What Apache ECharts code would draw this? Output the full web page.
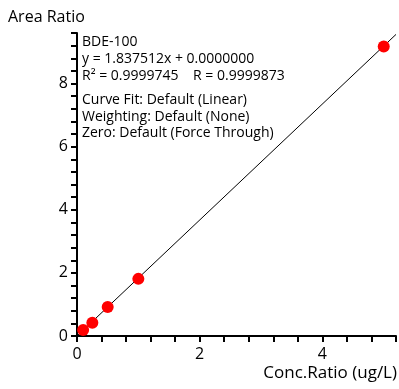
<!DOCTYPE html>
<html>
<head>
<meta charset="utf-8">
<script src="https://cdn.jsdelivr.net/npm/echarts@6/dist/echarts.min.js"></script>
<style>
  html, body { margin: 0; padding: 0; background: #fff; }
  #chart { width: 399px; height: 389px; }
</style>
</head>
<body>
<div id="chart"></div>
<script>
// calibration points
var concRatio = [0.1, 0.25, 0.5, 1, 5];
var areaRatio = [0.19, 0.42, 0.92, 1.81, 9.17];

// fitted line endpoints (y = 1.837512x, forced through zero)
var fitX = [0, 5.2];
var fitY = [0, 9.555];

var fitLines = [
    'BDE-100',
    'y = 1.837512x + 0.0000000',
    'R\u00b2 = 0.9999745    R = 0.9999873'
];
var settingLines = [
    'Curve Fit: Default (Linear)',
    'Weighting: Default (None)',
    'Zero: Default (Force Through)'
];

var font = '"Open Sans", "Noto Sans", sans-serif';

function evenLabel(v) {
    return Math.abs(v / 2 - Math.round(v / 2)) < 1e-6 ? String(Math.round(v)) : '';
}

var chart = echarts.init(document.getElementById('chart'), null, { renderer: 'canvas' });

var option = {
    animation: false,
    title: [
        {
            text: 'Area Ratio',
            left: 3, top: 4,
            textStyle: { fontFamily: font, fontSize: 16, fontWeight: 'normal', color: '#000' }
        },
        {
            text: 'Conc.Ratio (ug/L)',
            right: -3, top: 360,
            textStyle: { fontFamily: font, fontSize: 17, fontWeight: 'normal', color: '#000' }
        }
    ],
    grid: { left: 77, right: 2, top: 33, bottom: 53 },
    xAxis: {
        type: 'value',
        min: 0, max: 5.2, interval: 0.4,
        axisLine: { show: true, lineStyle: { color: '#000', width: 2 } },
        axisTick: { show: true, length: 6, lineStyle: { color: '#000', width: 2 } },
        axisLabel: { formatter: evenLabel, margin: 10, fontFamily: font, fontSize: 16, color: '#000' },
        splitLine: { show: false }
    },
    yAxis: {
        type: 'value',
        min: 0, max: 9.6, interval: 0.4,
        axisLine: { show: true, lineStyle: { color: '#000', width: 2 } },
        axisTick: { show: true, length: 6, lineStyle: { color: '#000', width: 2 } },
        axisLabel: { formatter: evenLabel, margin: 9, fontFamily: font, fontSize: 16, color: '#000' },
        splitLine: { show: false }
    },
    graphic: [
        {
            type: 'text',
            left: 82, top: 34,
            style: {
                text: fitLines.join('\n'),
                font: '14px ' + font,
                lineHeight: 17,
                fill: '#000'
            }
        },
        {
            type: 'text',
            left: 82, top: 92,
            style: {
                text: settingLines.join('\n'),
                font: '14px ' + font,
                lineHeight: 16.6,
                fill: '#000'
            }
        }
    ],
    series: [
        {
            type: 'line',
            data: fitX.map(function (x, i) { return [x, fitY[i]]; }),
            showSymbol: false,
            lineStyle: { color: '#000', width: 1 },
            z: 2
        },
        {
            type: 'scatter',
            data: concRatio.map(function (x, i) { return [x, areaRatio[i]]; }),
            symbolSize: 12,
            itemStyle: { color: '#ff0000', opacity: 1 },
            z: 3
        }
    ]
};

chart.setOption(option);
</script>
</body>
</html>
